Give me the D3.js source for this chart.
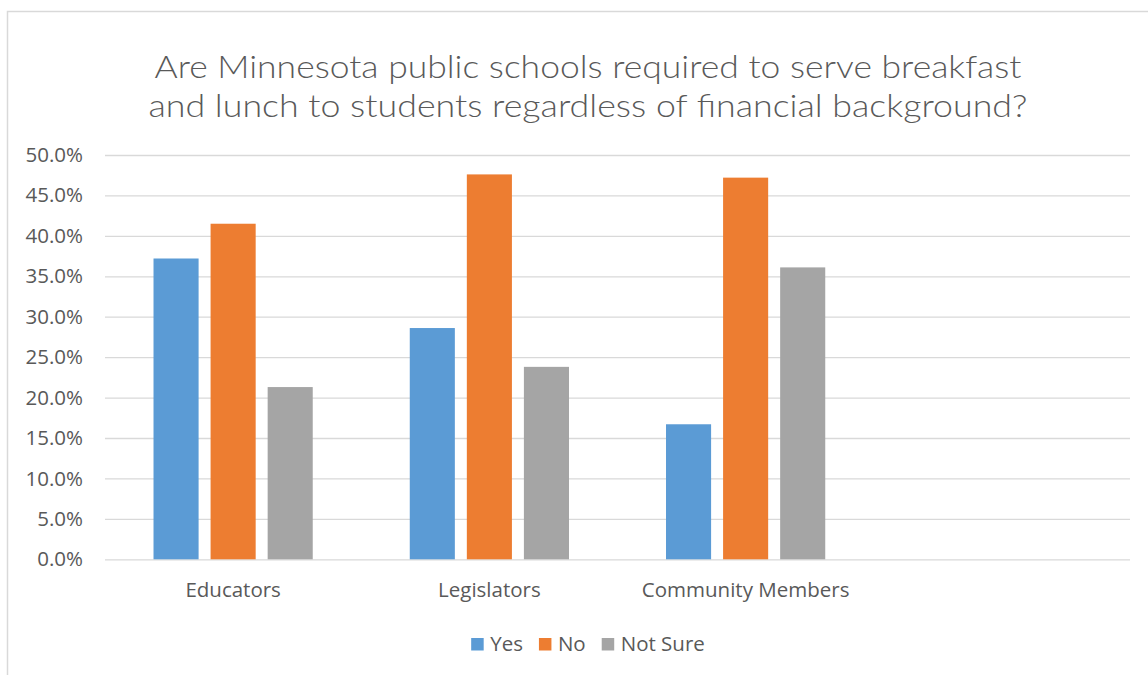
<!DOCTYPE html>
<html>
<head>
<meta charset="utf-8">
<script src="https://cdn.jsdelivr.net/npm/d3@7"></script>
<style>
  html, body { margin: 0; padding: 0; background: #fff; }
  svg { display: block; }
</style>
</head>
<body>
<div id="chart"></div>
<script>
// Survey responses by group (share of respondents)
const categories = ["Educators", "Legislators", "Community Members", ""];
const seriesNames = ["Yes", "No", "Not Sure"];
const yesValues = [0.372, 0.286, 0.167];
const noValues = [0.415, 0.476, 0.472];
const notSureValues = [0.213, 0.238, 0.361];
const yTicks = [0, 0.05, 0.10, 0.15, 0.20, 0.25, 0.30, 0.35, 0.40, 0.45, 0.50];
const titleLines = [
  "Are Minnesota public schools required to serve breakfast",
  "and lunch to students regardless of financial background?"
];

const seriesValues = [yesValues, noValues, notSureValues];
const colors = ["#5B9BD5", "#ED7D31", "#A5A5A5"];

const W = 1148, H = 675;
const plot = { left: 105, right: 1130, top: 155, bottom: 559.3 };
const centerX = 588;
const textColor = "#595959";
const gridColor = "#d9d9d9";
const labelFont = "'Open Sans', 'DejaVu Sans', sans-serif";
const labelSize = 20.5;

const svg = d3.select("#chart").append("svg")
  .attr("width", W).attr("height", H);

// chart area frame
svg.append("rect")
  .attr("x", 7.5).attr("y", 11.5)
  .attr("width", 1300).attr("height", 800)
  .attr("fill", "#fff")
  .attr("stroke", gridColor).attr("stroke-width", 1.5);

// title
const titleWidths = [867, 879];
const titleBaselines = [78, 117];
svg.append("g").selectAll("text")
  .data(titleLines)
  .join("text")
  .attr("x", centerX)
  .attr("y", (d, i) => titleBaselines[i])
  .attr("text-anchor", "middle")
  .attr("font-family", "Lato, 'Open Sans', sans-serif")
  .attr("font-weight", 300)
  .attr("font-size", 32)
  .attr("fill", textColor)
  .attr("textLength", (d, i) => titleWidths[i])
  .attr("lengthAdjust", "spacingAndGlyphs")
  .text(d => d);

// scales
const x = d3.scaleBand()
  .domain(categories)
  .range([plot.left, plot.right])
  .padding(0);

const xInner = d3.scaleBand()
  .domain(seriesNames)
  .range([0, x.bandwidth()])
  .paddingInner(0.21)
  .paddingOuter(0.85);

const y = d3.scaleLinear()
  .domain([0, 0.5])
  .range([plot.bottom, plot.top]);

// gridlines + y tick labels
const yAxis = d3.axisLeft(y)
  .tickValues(yTicks)
  .tickFormat(d3.format(".1%"))
  .tickSize(-(plot.right - plot.left))
  .tickPadding(22);

const gy = svg.append("g")
  .attr("transform", `translate(${plot.left},0)`)
  .call(yAxis);
gy.select(".domain").remove();
gy.selectAll(".tick line")
  .attr("stroke", gridColor)
  .attr("stroke-width", 1.3);
gy.selectAll(".tick text")
  .attr("font-family", labelFont)
  .attr("font-size", labelSize)
  .attr("fill", textColor);

// bars
const rows = categories.map((c, ci) => ({
  category: c,
  values: seriesNames.map((s, si) => ({ series: s, si, value: seriesValues[si][ci] }))
})).filter(r => r.values.every(v => v.value !== undefined));

const groups = svg.append("g").selectAll("g")
  .data(rows)
  .join("g")
  .attr("transform", d => `translate(${x(d.category)},0)`);

groups.selectAll("rect")
  .data(d => d.values)
  .join("rect")
  .attr("x", d => xInner(d.series))
  .attr("width", xInner.bandwidth())
  .attr("y", d => y(d.value))
  .attr("height", d => y(0) - y(d.value))
  .attr("fill", d => colors[d.si]);

// category labels
const xAxis = d3.axisBottom(x).tickSize(0).tickPadding(0);
const gx = svg.append("g")
  .attr("transform", `translate(0,${plot.bottom})`)
  .call(xAxis);
gx.select(".domain").remove();
gx.selectAll(".tick text")
  .attr("dy", null)
  .attr("y", 37.5)
  .attr("font-family", labelFont)
  .attr("font-size", labelSize)
  .attr("fill", textColor);

// legend
const legend = svg.append("g");
const items = legend.selectAll("g")
  .data(seriesNames)
  .join("g");
items.append("rect")
  .attr("width", 12.5).attr("height", 12.5)
  .attr("y", 638)
  .attr("fill", (d, i) => colors[i]);
items.append("text")
  .attr("x", 19)
  .attr("y", 651)
  .attr("font-family", labelFont)
  .attr("font-size", labelSize)
  .attr("fill", textColor)
  .text(d => d);

const widths = [];
items.each(function () {
  const tw = d3.select(this).select("text").node().getComputedTextLength();
  widths.push(19 + tw);
});
const gap = 16;
const total = d3.sum(widths) + gap * (widths.length - 1);
let cursor = centerX - total / 2;
items.attr("transform", (d, i) => {
  const t = `translate(${cursor},0)`;
  cursor += widths[i] + gap;
  return t;
});
</script>
</body>
</html>
